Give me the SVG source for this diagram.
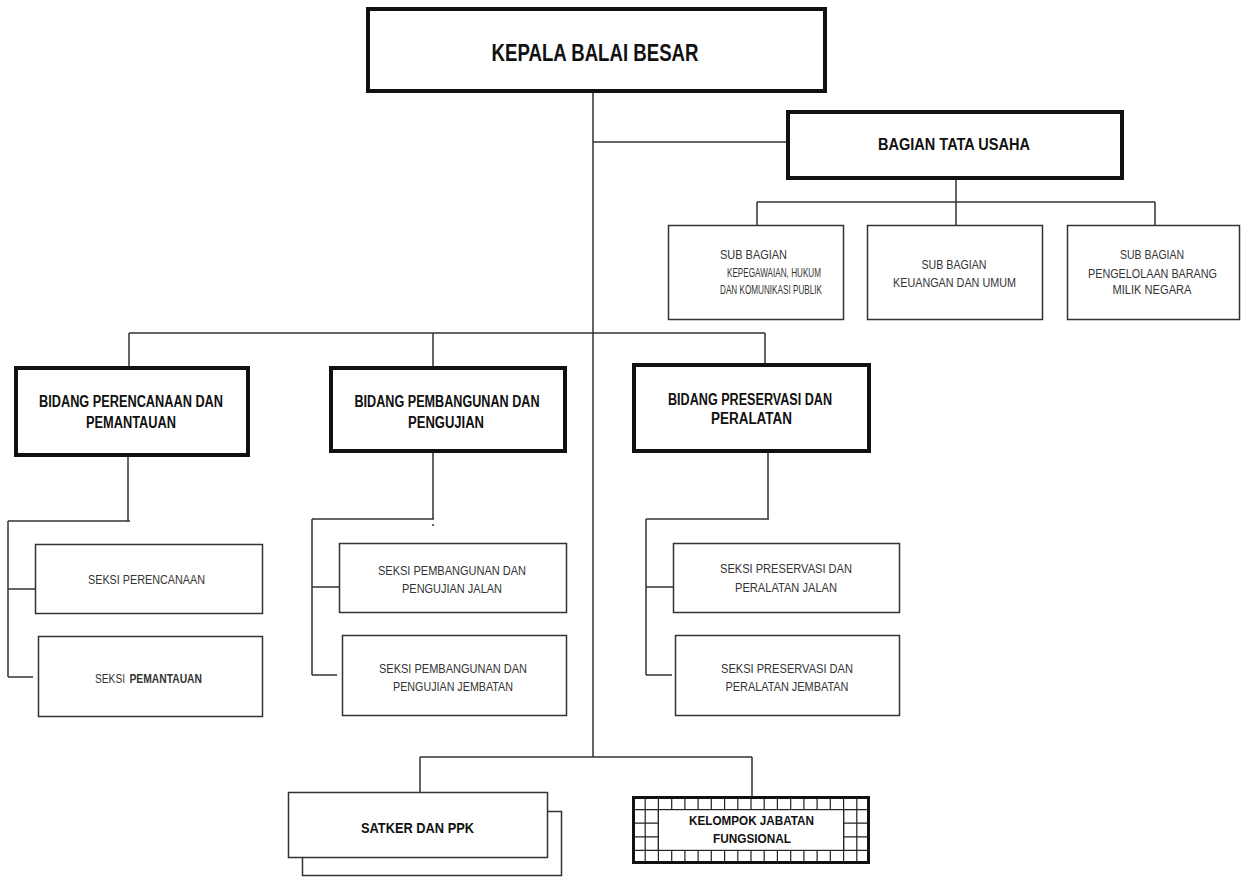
<svg xmlns="http://www.w3.org/2000/svg" width="1244" height="877" viewBox="0 0 1244 877">
<style>
.bg{fill:#fff}
.thick{fill:#fff;stroke:#111;stroke-width:4}
.thin{fill:#fff;stroke:#333;stroke-width:1.5}
.con{fill:none;stroke:#333;stroke-width:1.5}
.grid{fill:none;stroke:#222;stroke-width:1.2}
text{font-family:"Liberation Sans Narrow","Liberation Sans",Arial,sans-serif;text-anchor:middle;fill:#111}
.b{font-weight:bold}
.s{font-size:12px;fill:#333}
.m{font-size:13px;fill:#333}
.st{text-anchor:start}
</style>
<rect class="bg" x="0" y="0" width="1244" height="877"/>
<g id="connectors">
<path class="con" d="M593 93V757M593 142H786M956 180V202M757 202H1155M757 202V225M956 202V225M1155 202V225M129 333H765M129 333V366M433 333V366M765 333V363M128 457V521M8 521H130M8 521V677M8 589H35M8 677H33M433 453V519M312 519H434M312 519V675M312 587H339M312 675H337M768 453V519M646 519H769M646 519V675M646 587H673M646 675H672M420 757H752M420 757V792M752 757V796"/>
<path class="con" d="M433 524V526"/>
</g>
<g id="kepala">
<rect class="thick" x="368" y="9" width="457" height="82"/>
<text class="b" x="595" y="61" font-size="23" textLength="207" lengthAdjust="spacingAndGlyphs">KEPALA BALAI BESAR</text>
</g>
<g id="bagian-tata-usaha">
<rect class="thick" x="788" y="112" width="334" height="66"/>
<text class="b" x="954" y="150" font-size="17" textLength="152" lengthAdjust="spacingAndGlyphs">BAGIAN TATA USAHA</text>
</g>
<g id="sub-kepegawaian">
<rect class="thin" x="668.5" y="225.5" width="175" height="94"/>
<text class="s" x="753.5" y="259" textLength="67" lengthAdjust="spacingAndGlyphs">SUB BAGIAN</text>
<text class="s" x="774" y="277" textLength="94" lengthAdjust="spacingAndGlyphs">KEPEGAWAIAN,  HUKUM</text>
<text class="s" x="771" y="294" textLength="102" lengthAdjust="spacingAndGlyphs">DAN KOMUNIKASI  PUBLIK</text>
</g>
<g id="sub-keuangan">
<rect class="thin" x="867.5" y="225.5" width="175" height="94"/>
<text class="s" x="954" y="269" textLength="65" lengthAdjust="spacingAndGlyphs">SUB BAGIAN</text>
<text class="s" x="954.5" y="287" textLength="123" lengthAdjust="spacingAndGlyphs">KEUANGAN  DAN  UMUM</text>
</g>
<g id="sub-bmn">
<rect class="thin" x="1067.5" y="225.5" width="172" height="94"/>
<text class="s" x="1152" y="259" textLength="64" lengthAdjust="spacingAndGlyphs">SUB BAGIAN</text>
<text class="s" x="1152.5" y="278" textLength="129" lengthAdjust="spacingAndGlyphs">PENGELOLAAN  BARANG</text>
<text class="s" x="1152" y="294" textLength="79" lengthAdjust="spacingAndGlyphs">MILIK  NEGARA</text>
</g>
<g id="bidang-perencanaan">
<rect class="thick" x="16" y="368" width="232" height="87"/>
<text class="b" x="131" y="407" font-size="16" textLength="184" lengthAdjust="spacingAndGlyphs">BIDANG PERENCANAAN DAN</text>
<text class="b" x="131" y="428" font-size="16" textLength="90" lengthAdjust="spacingAndGlyphs">PEMANTAUAN</text>
</g>
<g id="bidang-pembangunan">
<rect class="thick" x="331" y="368" width="234" height="83"/>
<text class="b" x="447" y="407" font-size="16" textLength="185" lengthAdjust="spacingAndGlyphs">BIDANG PEMBANGUNAN DAN</text>
<text class="b" x="446" y="428" font-size="16" textLength="76" lengthAdjust="spacingAndGlyphs">PENGUJIAN</text>
</g>
<g id="bidang-preservasi">
<rect class="thick" x="634" y="365" width="235" height="86"/>
<text class="b" x="750" y="405" font-size="16" textLength="164" lengthAdjust="spacingAndGlyphs">BIDANG PRESERVASI DAN</text>
<text class="b" x="751.5" y="424" font-size="16" textLength="81" lengthAdjust="spacingAndGlyphs">PERALATAN</text>
</g>
<g id="seksi-perencanaan">
<rect class="thin" x="35.5" y="544.5" width="227" height="69"/>
<text class="m" x="146.5" y="584" textLength="117" lengthAdjust="spacingAndGlyphs">SEKSI  PERENCANAAN</text>
</g>
<g id="seksi-pemantauan">
<rect class="thin" x="38.5" y="636.5" width="224" height="80"/>
<text class="m st" x="95" y="683" textLength="30" lengthAdjust="spacingAndGlyphs">SEKSI</text>
<text class="m st b" x="129.5" y="683" textLength="72.5" lengthAdjust="spacingAndGlyphs">PEMANTAUAN</text>
</g>
<g id="seksi-pembangunan-jalan">
<rect class="thin" x="339.5" y="543.5" width="227" height="69"/>
<text class="m" x="452" y="575" textLength="148" lengthAdjust="spacingAndGlyphs">SEKSI  PEMBANGUNAN  DAN</text>
<text class="m" x="452" y="593" textLength="100" lengthAdjust="spacingAndGlyphs">PENGUJIAN  JALAN</text>
</g>
<g id="seksi-pembangunan-jembatan">
<rect class="thin" x="342.5" y="635.5" width="224" height="80"/>
<text class="m" x="453" y="673" textLength="148" lengthAdjust="spacingAndGlyphs">SEKSI  PEMBANGUNAN  DAN</text>
<text class="m" x="453" y="691" textLength="120" lengthAdjust="spacingAndGlyphs">PENGUJIAN  JEMBATAN</text>
</g>
<g id="seksi-preservasi-jalan">
<rect class="thin" x="673.5" y="543.5" width="226" height="69"/>
<text class="m" x="786" y="573" textLength="132" lengthAdjust="spacingAndGlyphs">SEKSI  PRESERVASI  DAN</text>
<text class="m" x="786" y="592" textLength="102" lengthAdjust="spacingAndGlyphs">PERALATAN  JALAN</text>
</g>
<g id="seksi-preservasi-jembatan">
<rect class="thin" x="675.5" y="635.5" width="224" height="80"/>
<text class="m" x="787" y="673" textLength="132" lengthAdjust="spacingAndGlyphs">SEKSI  PRESERVASI  DAN</text>
<text class="m" x="787" y="691" textLength="123" lengthAdjust="spacingAndGlyphs">PERALATAN  JEMBATAN</text>
</g>
<g id="satker-ppk">
<rect class="thin" x="302.5" y="811.5" width="259" height="64" stroke="#777"/>
<rect class="thin" x="288.5" y="792.5" width="259" height="65"/>
<text class="b" x="417.5" y="833" font-size="15" textLength="113" lengthAdjust="spacingAndGlyphs">SATKER DAN PPK</text>
</g>
<g id="kelompok-jabatan-fungsional">
<rect x="632" y="796" width="238" height="68" fill="#fff"/>
<path class="grid" d="M645.2 796V864M658.4 796V864M671.7 796V864M684.9 796V864M698.1 796V864M711.3 796V864M724.6 796V864M737.8 796V864M751 796V864M764.2 796V864M777.4 796V864M790.7 796V864M803.9 796V864M817.1 796V864M830.3 796V864M843.6 796V864M856.8 796V864M632 809.6H870M632 823.2H870M632 836.8H870M632 850.4H870"/>
<rect x="658.4" y="809.6" width="185.2" height="40.8" fill="#fff" stroke="#222" stroke-width="1.2"/>
<rect x="633.5" y="797.5" width="235" height="65" fill="none" stroke="#111" stroke-width="3"/>
<text class="b" x="751.5" y="825" font-size="13" textLength="125" lengthAdjust="spacingAndGlyphs">KELOMPOK JABATAN</text>
<text class="b" x="752" y="843" font-size="13" textLength="78" lengthAdjust="spacingAndGlyphs">FUNGSIONAL</text>
</g>
</svg>
